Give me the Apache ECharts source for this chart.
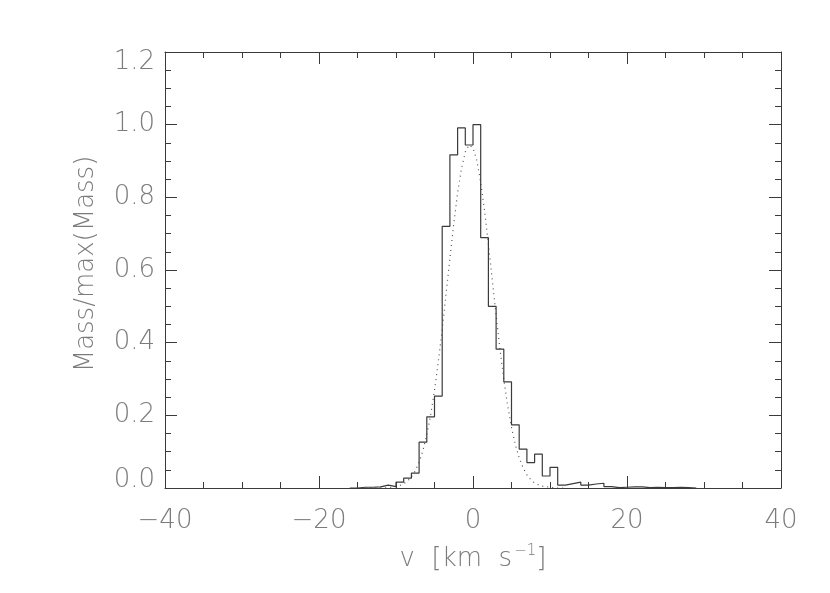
<!DOCTYPE html>
<html>
  <head>
    <meta charset="utf-8" />
    <title>Velocity distribution</title>
    <script src="https://cdn.jsdelivr.net/npm/echarts@6.0.0/dist/echarts.min.js"></script>
    <style>
      html, body { margin: 0; padding: 0; background: #fff; }
    </style>
  </head>
  <body>
    <div id="main" style="width: 830px;height:593px;"></div>

    <script type="text/javascript">
      // histogram: left edge of each 1 km/s bin and its normalised mass
      var binLeft = [-16, -15, -14, -13, -12, -11, -10, -9, -8, -7, -6, -5, -4, -3, -2, -1,
                     0, 1, 2, 3, 4, 5, 6, 7, 8, 9, 10, 11, 12, 13, 14, 15, 16, 17, 18, 19,
                     20, 21, 22, 23, 24, 25, 26, 27, 28];
      var massFrac = [0, 0.002, 0.002, 0.003, 0.008, 0.004, 0.016, 0.027, 0.041, 0.126, 0.196, 0.253, 0.72, 0.917, 0.991, 0.944,
                      1.0, 0.689, 0.5, 0.382, 0.292, 0.174, 0.107, 0.07, 0.093, 0.033, 0.057, 0.008, 0.012, 0.016, 0.008, 0.011, 0.013, 0.004, 0.001, 0.002,
                      0.003, 0.003, 0.001, 0.002, 0.001, 0.001, 0.002, 0.001, 0];

      // dotted gaussian fit
      var fitV = [-14, -13, -12, -11, -10, -9.5, -9, -8.5, -8, -7.5, -7, -6.5, -6, -5.5, -5, -4.5, -4, -3.5, -3, -2.5,
                  -2, -1.5, -1, -0.5, 0, 0.5, 1, 1.5, 2, 2.5, 3, 3.5, 4, 4.5, 5, 5.5, 6, 6.5, 7, 7.5, 8, 8.5, 9, 10, 11, 12];
      var fitM = [0, 0, 0, 0.001, 0.004, 0.007, 0.012, 0.019, 0.031, 0.047, 0.071, 0.103, 0.147, 0.201, 0.269, 0.348, 0.437, 0.534, 0.632, 0.727,
                  0.812, 0.879, 0.925, 0.944, 0.936, 0.901, 0.841, 0.763, 0.671, 0.573, 0.475, 0.383, 0.299, 0.227, 0.167, 0.119, 0.083, 0.056, 0.036, 0.023, 0.014, 0.009, 0.005, 0.002, 0, 0];

      var xTicks = [-40, -20, 0, 20, 40];
      var yTicks = [0.0, 0.2, 0.4, 0.6, 0.8, 1.0, 1.2];

      var histData = [];
      for (var i = 0; i < binLeft.length; i++) {
        histData.push([binLeft[i], massFrac[i]]);
      }
      histData.push([binLeft[binLeft.length - 1] + 1, 0]);

      var fitData = [];
      for (var j = 0; j < fitV.length; j++) {
        fitData.push([fitV[j], fitM[j]]);
      }

      var lineCol = '#3a3a3a';
      var textCol = '#7c7c7c';
      var font = 'DejaVu Sans';
      var fw = 200;
      var fs = 26;

      function axisBase(extra) {
        var a = {
          axisLine: { show: true, onZero: false, lineStyle: { color: lineCol, width: 1 } },
          axisTick: { show: true, inside: true, length: 12, lineStyle: { color: lineCol } },
          minorTick: { show: true, splitNumber: 4, length: 6, lineStyle: { color: lineCol } },
          splitLine: { show: false }
        };
        for (var k in extra) a[k] = extra[k];
        return a;
      }

      var myChart = echarts.init(document.getElementById('main'));

      var option = {
        animation: false,
        backgroundColor: '#fff',
        grid: { left: 165, right: 49, top: 52, bottom: 105 },
        xAxis: [
          axisBase({
            type: 'value', min: xTicks[0], max: xTicks[xTicks.length - 1], interval: 20,
            position: 'bottom',
            name: '{a|v  [km  s}{s|−1}{a|]}',
            nameLocation: 'middle', nameGap: 56,
            nameTextStyle: {
              rich: {
                a: { fontFamily: font, fontWeight: fw, fontSize: fs, color: textCol },
                s: { fontFamily: font, fontWeight: fw, fontSize: 15, color: textCol, verticalAlign: 'top', padding: [0, 0, 16, 2] }
              }
            },
            axisLabel: {
              margin: 20, color: textCol, fontFamily: font, fontWeight: fw, fontSize: fs,
              formatter: function (v) { return String(v).replace('-', '−'); }
            }
          }),
          axisBase({
            type: 'value', min: xTicks[0], max: xTicks[xTicks.length - 1], interval: 20,
            position: 'top', axisLabel: { show: false }
          })
        ],
        yAxis: [
          axisBase({
            type: 'value', min: yTicks[0], max: yTicks[yTicks.length - 1], interval: 0.2,
            position: 'left',
            name: 'Mass/max(Mass)',
            nameLocation: 'middle', nameGap: 66,
            nameTextStyle: { fontFamily: font, fontWeight: fw, fontSize: fs, color: textCol, padding: [0, 0, 0, 12] },
            axisLabel: {
              margin: 10, color: textCol, fontFamily: font, fontWeight: fw, fontSize: fs,
              formatter: function (v) {
                var s = v.toFixed(1);
                if (v === yTicks[0]) return '{lo|' + s + '}';
                if (v === yTicks[yTicks.length - 1]) return '{hi|' + s + '}';
                return s;
              },
              rich: {
                lo: { fontFamily: font, fontWeight: fw, fontSize: fs, color: textCol, padding: [0, 0, 16, 0] },
                hi: { fontFamily: font, fontWeight: fw, fontSize: fs, color: textCol, padding: [20, 0, 0, 0] }
              }
            }
          }),
          axisBase({
            type: 'value', min: yTicks[0], max: yTicks[yTicks.length - 1], interval: 0.2,
            position: 'right', axisLabel: { show: false }
          })
        ],
        series: [
          {
            name: 'histogram',
            type: 'line',
            step: 'end',
            data: histData,
            showSymbol: false,
            lineStyle: { color: lineCol, width: 1.2 },
            z: 3
          },
          {
            name: 'fit',
            type: 'line',
            data: fitData,
            showSymbol: false,
            lineStyle: { color: '#555', width: 1.2, type: [1, 4] },
            z: 2
          }
        ]
      };

      myChart.setOption(option);
    </script>
  </body>
</html>
